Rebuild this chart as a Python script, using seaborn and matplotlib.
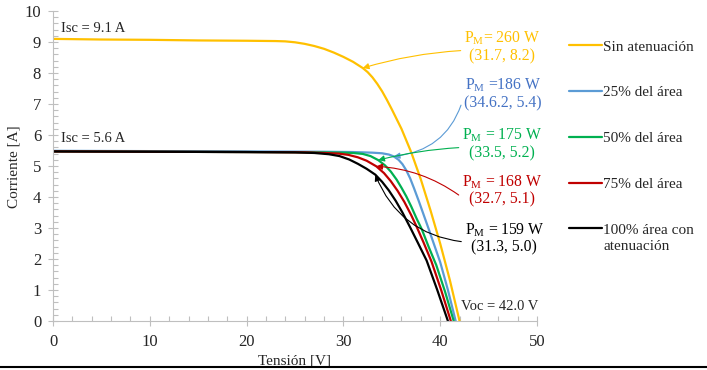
import pandas as pd
import matplotlib.pyplot as plt
import seaborn as sns
from matplotlib.lines import Line2D
from matplotlib.ticker import MultipleLocator

sns.set_style("ticks")
plt.rcParams['font.family'] = ['Liberation Serif', 'DejaVu Serif']
plt.rcParams['mathtext.fontset'] = 'custom'
plt.rcParams['mathtext.rm'] = 'Liberation Serif'
plt.rcParams['mathtext.it'] = 'Liberation Serif:italic'

# curvas I-V (tensión [V], corriente [A])
v_sin = [0, 5, 10, 15, 20, 23, 24, 25, 26, 27, 28, 29, 30, 31, 32, 32.5, 33, 33.5, 34, 34.5, 35, 36, 37, 38, 39, 40, 41, 42]
i_sin = [9.10, 9.08, 9.07, 9.05, 9.04, 9.03, 9.02, 8.99, 8.94, 8.87, 8.78, 8.66, 8.52, 8.36, 8.16, 8.03, 7.86, 7.65, 7.41, 7.13, 6.83, 6.20, 5.45, 4.57, 3.57, 2.50, 1.32, 0.0]

v_25 = [0, 10, 20, 28, 31, 33, 34, 34.7, 35.2, 35.7, 36.1, 36.5, 36.9, 37.3, 37.8, 38.3, 38.8, 39.4, 40.0, 40.8, 41.6]
i_25 = [5.49, 5.48, 5.47, 5.46, 5.45, 5.43, 5.41, 5.37, 5.31, 5.20, 5.06, 4.86, 4.60, 4.28, 3.86, 3.42, 2.98, 2.44, 1.90, 1.00, 0.0]

v_50 = [0, 20, 28, 30, 31, 32, 32.8, 33.6, 34.3, 34.9, 35.5, 36.0, 36.5, 37.0, 37.6, 38.1, 38.8, 39.6, 40.5, 41.4]
i_50 = [5.47, 5.45, 5.44, 5.43, 5.42, 5.39, 5.32, 5.19, 5.02, 4.82, 4.56, 4.30, 4.02, 3.70, 3.28, 2.96, 2.40, 1.80, 0.95, 0.0]

v_75 = [0, 20, 26, 28, 29.5, 30.5, 31.5, 32.4, 33.4, 34.2, 34.9, 35.6, 36.3, 37.0, 37.6, 38.3, 39.1, 40.1, 41.1]
i_75 = [5.47, 5.45, 5.44, 5.42, 5.40, 5.36, 5.28, 5.17, 4.99, 4.77, 4.51, 4.20, 3.84, 3.42, 3.02, 2.52, 1.92, 1.00, 0.0]

v_100 = [0, 20, 25, 27, 28.5, 29.6, 30.6, 31.5, 32.4, 33.3, 34.0, 34.7, 35.4, 36.1, 36.9, 37.7, 38.6, 39.7, 40.8]
i_100 = [5.47, 5.45, 5.44, 5.42, 5.38, 5.32, 5.21, 5.07, 4.91, 4.72, 4.49, 4.21, 3.88, 3.50, 3.02, 2.52, 1.95, 1.00, 0.0]

etiquetas = ['Sin atenuación', '25% del área', '50% del área', '75% del área', '100% área con']
colores = ['#FFC000', '#5B9BD5', '#00B050', '#C00000', '#000000']
colores_txt = ['#FFC000', '#4472C4', '#00B050', '#C00000', '#000000']

# puntos de máxima potencia (donde apuntan las flechas) y textos
mpp_v = [32.0, 35.2, 33.6, 33.4, 33.3]
mpp_i = [8.16, 5.31, 5.19, 4.99, 4.72]
mpp_txt = [r'P$_\mathrm{M}$= 260 W' + '\n(31.7, 8.2)',
           r'P$_\mathrm{M}$ =186 W' + '\n(34.6.2, 5.4)',
           r'P$_\mathrm{M}$ = 175 W' + '\n(33.5, 5.2)',
           r'P$_\mathrm{M}$ = 168 W' + '\n(32.7, 5.1)',
           r'P$_\mathrm{M}$ = 159 W' + '\n(31.3, 5.0)']
txt_v = [46.4, 46.5, 46.4, 46.4, 46.6]
txt_i = [8.84, 7.32, 5.71, 4.21, 2.66]

curvas = [(v_sin, i_sin), (v_25, i_25), (v_50, i_50), (v_75, i_75), (v_100, i_100)]

fig = plt.figure(figsize=(7.07, 3.70), dpi=100)
ax = fig.add_axes([0.075, 0.1324, 0.6845, 0.8379])

for (v, i), lab, col in zip(curvas, etiquetas, colores):
    df = pd.DataFrame({'V': v, 'I': i})
    sns.lineplot(data=df, x='V', y='I', color=col, lw=1.6, label=lab, sort=False, ax=ax)

# flechas hacia los puntos de máxima potencia
rads = [0.06, -0.35, 0.05, 0.15, -0.3]
relpos = [(0, 0.4), (0, 0.5), (0, 0.4), (0, 0.3), (0, 0.4)]
for k in range(5):
    ax.annotate(mpp_txt[k], xy=(mpp_v[k], mpp_i[k]), xytext=(txt_v[k], txt_i[k]),
                ha='center', va='center', fontsize=11.3, color=colores_txt[k], linespacing=1.1,
                annotation_clip=False,
                arrowprops=dict(arrowstyle='-|>', color=colores[k], lw=0.8, mutation_scale=9,
                                shrinkA=0, shrinkB=0, relpos=relpos[k],
                                connectionstyle=f'arc3,rad={rads[k]}'))

ax.text(0.83, 9.42, 'Isc = 9.1 A', fontsize=10.5, va='center')
ax.text(0.83, 5.90, 'Isc = 5.6 A', fontsize=10.5, va='center')
ax.text(42.1, 0.48, 'Voc = 42.0 V', fontsize=10.5, va='center')

ax.set_xlim(0, 50)
ax.set_ylim(0, 10)
ax.set_xticks(range(0, 51, 10))
ax.set_yticks(range(0, 11))
ax.xaxis.set_minor_locator(MultipleLocator(2))
ax.yaxis.set_minor_locator(MultipleLocator(0.2))
ax.tick_params(which='major', direction='inout', length=7, color='#bfbfbf', width=0.8,
               labelsize=12, labelcolor='#262626')
ax.tick_params(axis='x', which='major', pad=6)
ax.tick_params(axis='y', which='major', pad=5)
ax.tick_params(which='minor', direction='in', length=3.5, color='#bfbfbf', width=0.8)
for s in ['top', 'right']:
    ax.spines[s].set_visible(False)
for s in ['left', 'bottom']:
    ax.spines[s].set_color('#bfbfbf')
    ax.spines[s].set_linewidth(0.8)

ax.set_xlabel('Tensión [V]', fontsize=11)
ax.set_ylabel('Corriente [A]', fontsize=11)
ax.xaxis.set_label_coords(0.5, -0.108)
ax.yaxis.set_label_coords(-0.068, 0.497)

ax.legend(loc='upper left', bbox_to_anchor=(569 / 707, 1 - 40 / 370), bbox_transform=fig.transFigure,
          frameon=False, fontsize=11, handlelength=2.15, handletextpad=0.05, labelspacing=2.1,
          borderpad=0, borderaxespad=0)
fig.text(603 / 707, 1 - 246 / 370, 'atenuación', fontsize=11, va='center')

# línea negra inferior
fig.add_artist(Line2D([0, 1], [1 - 367 / 370, 1 - 367 / 370], color='black', lw=1.5,
                      transform=fig.transFigure))

fig.savefig('out.png', dpi=100)
